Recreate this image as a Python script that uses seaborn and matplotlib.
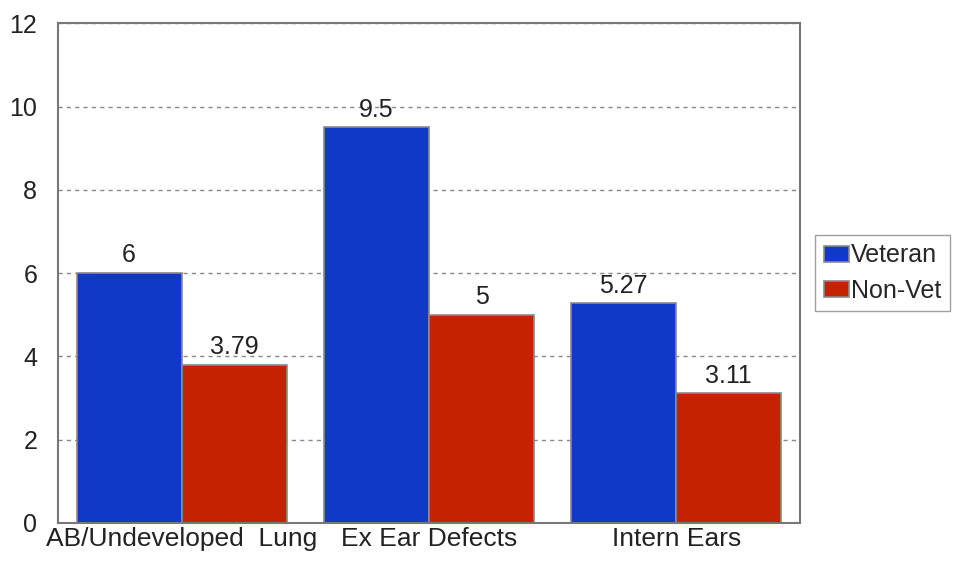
import matplotlib
matplotlib.use("Agg")
import matplotlib.pyplot as plt
import seaborn as sns
import pandas as pd

# chart data
categories = ["AB/Undeveloped  Lung", "Ex Ear Defects", "Intern Ears"]
veteran = [6, 9.5, 5.27]
non_vet = [3.79, 5, 3.11]
value_labels = {"Veteran": ["6", "9.5", "5.27"], "Non-Vet": ["3.79", "5", "3.11"]}

df = pd.DataFrame({
    "category": categories * 2,
    "group": ["Veteran"] * 3 + ["Non-Vet"] * 3,
    "value": veteran + non_vet,
})

sns.set_style("white")
plt.rcParams["font.family"] = ["Liberation Sans", "DejaVu Sans"]

fig = plt.figure(figsize=(9.58, 5.67), dpi=100)
ax = fig.add_axes([0.0605, 0.078, 0.7745, 0.881])

sns.barplot(data=df, x="category", y="value", hue="group",
            palette={"Veteran": "#1238c8", "Non-Vet": "#c42200"},
            width=0.85, edgecolor="#8a8a8a", linewidth=1.2,
            saturation=1, ax=ax)

for cont, grp in zip(ax.containers, ["Veteran", "Non-Vet"]):
    ax.bar_label(cont, labels=value_labels[grp], padding=4, fontsize=18, color="#222222")

ax.set_ylim(0, 12)
ax.set_xlim(-0.5, 2.5)
ax.set_yticks(range(0, 13, 2))
ax.yaxis.grid(True, linestyle=(0, (3, 3)), color="#888888", linewidth=1)
ax.set_axisbelow(True)
ax.set_xlabel("")
ax.set_ylabel("")
ax.tick_params(axis="y", length=0, labelsize=18, colors="#222222", pad=15)
ax.tick_params(axis="x", length=0, labelsize=19, colors="#222222", pad=3)
for s in ax.spines.values():
    s.set_color("#777777")
    s.set_linewidth(1.5)

ax.legend(loc="center left", bbox_to_anchor=(1.02, 0.5), fontsize=18,
          frameon=True, fancybox=False, edgecolor="#888888",
          handlelength=1.0, handleheight=0.6, handletextpad=0.1,
          borderpad=0.35, labelspacing=0.45, borderaxespad=0)

fig.savefig("out.png", dpi=100)
